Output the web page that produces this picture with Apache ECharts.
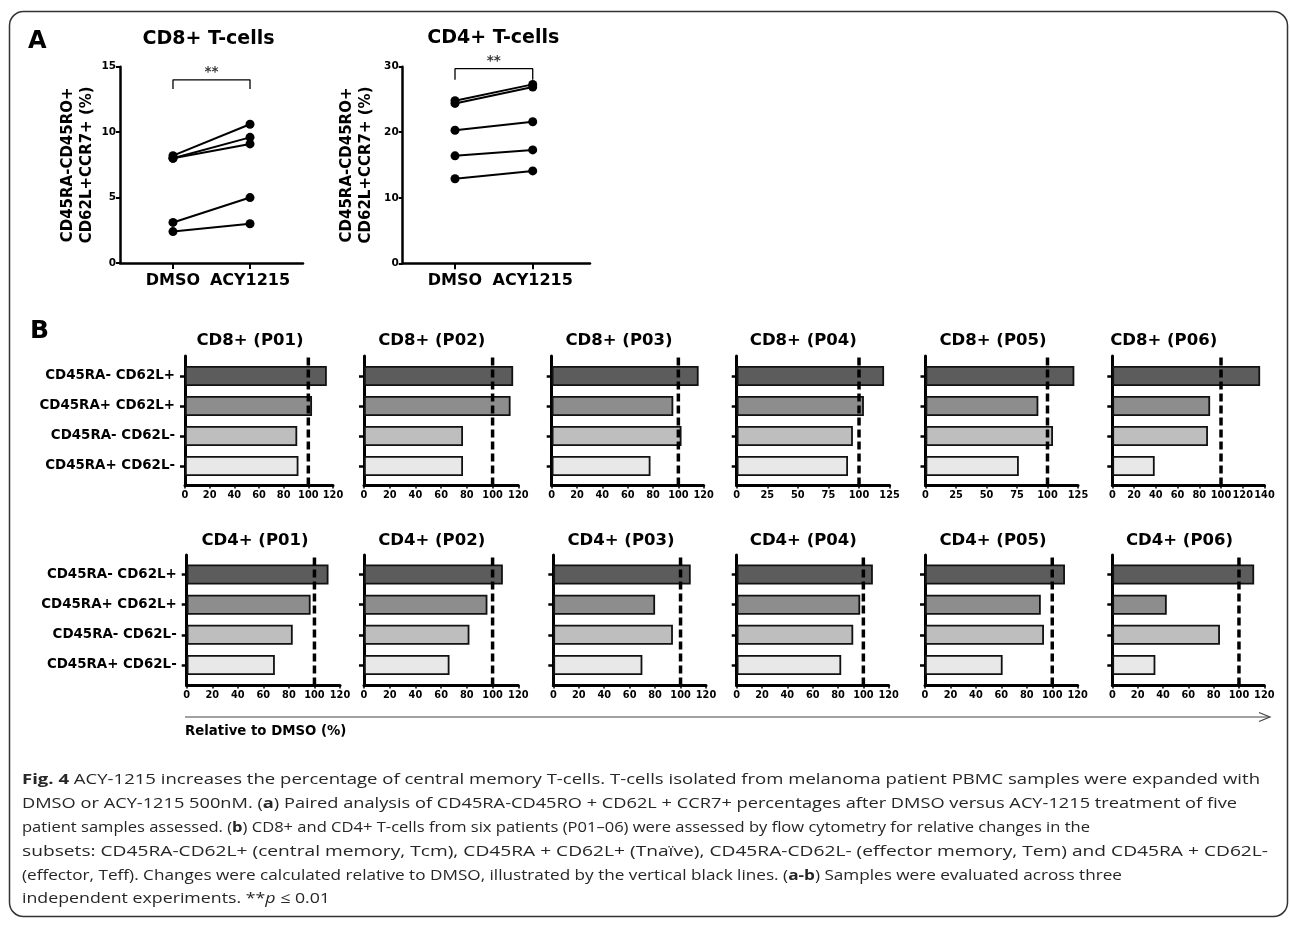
<!DOCTYPE html>
<html>
<head>
<meta charset="utf-8">
<script src="https://cdn.jsdelivr.net/npm/echarts@6/dist/echarts.min.js"></script>
<style>
html,body{margin:0;padding:0;background:#fff;}
#c{width:1290px;height:927px;}
</style>
</head>
<body>
<div id="c"></div>
<script>
// ================= DATA =================
// Panel A: paired percentages (CD45RA-CD45RO+CD62L+CCR7+ %)
const pairedCategories = ['DMSO', 'ACY1215'];
const cd8Dmso = [8.2, 8.0, 8.0, 3.1, 2.4];
const cd8Acy  = [10.6, 9.6, 9.1, 5.0, 3.0];
const cd4Dmso = [24.8, 24.4, 20.3, 16.4, 12.9];
const cd4Acy  = [27.3, 26.9, 21.6, 17.3, 14.1];
const cd8YTicks = [0, 15, 5];   // min, max, step
const cd4YTicks = [0, 30, 10];
const cd8Bracket = [13.3, 14.0];
const cd4Bracket = [28.0, 29.7];
const sigLabel = '**';

// Panel B: relative to DMSO (%)
const subsets = ['CD45RA- CD62L+', 'CD45RA+ CD62L+', 'CD45RA- CD62L-', 'CD45RA+ CD62L-'];
const patients = ['P01', 'P02', 'P03', 'P04', 'P05', 'P06'];
const cd8P01 = [115, 103, 91, 92];
const cd8P02 = [116, 114, 77, 77];
const cd8P03 = [116, 96, 102.5, 78];
const cd8P04 = [120.5, 104, 95, 91];
const cd8P05 = [122, 92.5, 104.5, 76.5];
const cd8P06 = [136, 90, 88, 39];
const cd4P01 = [111, 97, 83, 69];
const cd4P02 = [108, 96, 82, 66.5];
const cd4P03 = [108, 80, 94, 70];
const cd4P04 = [107.5, 97.5, 92, 82.5];
const cd4P05 = [110, 91, 93.5, 61];
const cd4P06 = [112, 43, 85, 34];
const cd8AxisMax  = [120, 120, 120, 125, 125, 140];
const cd8AxisStep = [20, 20, 20, 25, 25, 20];
const cd4AxisMax  = [120, 120, 120, 120, 120, 120];
const cd4AxisStep = [20, 20, 20, 20, 20, 20];
const refValue = 100;

// Caption text
const captionLines = [
  [['Fig. 4', 'b'], [' ACY-1215 increases the percentage of central memory T-cells. T-cells isolated from melanoma patient PBMC samples were expanded with', 'n']],
  [['DMSO or ACY-1215 500nM. (', 'n'], ['a', 'b'], [') Paired analysis of CD45RA-CD45RO + CD62L + CCR7+ percentages after DMSO versus ACY-1215 treatment of five', 'n']],
  [['patient samples assessed. (', 'n'], ['b', 'b'], [') CD8+ and CD4+ T-cells from six patients (P01\u201306) were assessed by flow cytometry for relative changes in the', 'n']],
  [['subsets: CD45RA-CD62L+ (central memory, Tcm), CD45RA + CD62L+ (Tna\u00efve), CD45RA-CD62L- (effector memory, Tem) and CD45RA + CD62L-', 'n']],
  [['(effector, Teff). Changes were calculated relative to DMSO, illustrated by the vertical black lines. (', 'n'], ['a-b', 'b'], [') Samples were evaluated across three', 'n']],
  [['independent experiments. **', 'n'], ['p', 'i'], [' \u2264 0.01', 'n']]
];

// ================= LAYOUT / STYLE =================
const FONT = 'DejaVu Sans';
const CAP_FONT = 'Open Sans';
const CAP_SIZE = 15;
const barColors = ['#5c5c5c', '#8d8d8d', '#bebebe', '#e8e8e8'];
const cd8Left  = [185, 364, 551.7, 736.7, 925.5, 1112.3];
const cd8Width = [148, 154.3, 152, 152.9, 152.5, 152.2];
const cd4Left  = [186.7, 364, 553.3, 736.7, 925, 1112.3];
const cd4Width = [153.3, 154.3, 152.7, 152, 152.7, 152];
const cd8TitleX = [250, 431.7, 619, 803.3, 993, 1163.7];
const cd4TitleX = [255, 431.7, 621, 803.3, 993, 1179.5];
const row1 = {axisTop: 356, axisBottom: 485.5, barTop: 361, barBottom: 481, titleY: 341};
const row2 = {axisTop: 555, axisBottom: 685.5, barTop: 559.5, barBottom: 680, titleY: 541};
const captionY = [780, 804, 828, 852, 875.5, 899];
const captionW = [1238, 1215, 1068, 1246, 1100, 308];

// ================= BUILD =================
const grid = [], xAxis = [], yAxis = [], series = [], graphic = [];
function addGrid(g) { grid.push(g); return grid.length - 1; }
function bold(size, extra) {
  return Object.assign({fontFamily: FONT, fontWeight: 'bold', fontSize: size, color: '#000'}, extra || {});
}
function gtext(x, y, text, size, opts) {
  opts = opts || {};
  graphic.push({type: 'text', x: x, y: y, silent: true, z: 10,
    style: Object.assign({text: text, fontFamily: FONT, fontWeight: 'bold', fontSize: size, fill: '#000',
      align: opts.align || 'center', verticalAlign: 'middle'}, opts.style || {})});
}

function pairedPanel(dmso, acy, ticks, bracket, L) {
  const gi = addGrid({left: L.left, top: L.top, width: L.width, height: L.height});
  const xi = xAxis.length;
  xAxis.push({type: 'value', gridIndex: gi, min: L.xMin, max: L.xMax,
    axisLine: {show: true, onZero: false, lineStyle: {color: '#000', width: 2.5}},
    axisTick: {show: true, customValues: [0, 1], length: 6, lineStyle: {color: '#000', width: 2}},
    axisLabel: Object.assign({customValues: [0, 1], formatter: v => pairedCategories[Math.round(v)], margin: 10}, bold(16)),
    splitLine: {show: false}});
  const yi = yAxis.length;
  yAxis.push({type: 'value', gridIndex: gi, min: ticks[0], max: ticks[1], interval: ticks[2],
    axisLine: {show: true, onZero: false, lineStyle: {color: '#000', width: 2.5}},
    axisTick: {show: true, length: 4, lineStyle: {color: '#000', width: 2}},
    axisLabel: Object.assign({margin: 4}, bold(10.5)),
    splitLine: {show: false},
    name: 'CD45RA-CD45RO+\nCD62L+CCR7+ (%)', nameLocation: 'middle', nameGap: L.nameGap,
    nameTextStyle: bold(15, {lineHeight: 19})});
  dmso.forEach((d, i) => {
    series.push({type: 'line', xAxisIndex: xi, yAxisIndex: yi, data: [[0, d], [1, acy[i]]],
      symbol: 'circle', symbolSize: 9, itemStyle: {color: '#000'},
      lineStyle: {color: '#000', width: 2}, z: 3, silent: true, animation: false});
  });
  series.push({type: 'line', xAxisIndex: xi, yAxisIndex: yi,
    data: [[0, bracket[0]], [0, bracket[1]], [1, bracket[1]], [1, bracket[0]]],
    symbol: 'none', lineStyle: {color: '#000', width: 1.3}, silent: true, animation: false});
  series.push({type: 'scatter', xAxisIndex: xi, yAxisIndex: yi, data: [[0.5, bracket[1]]],
    symbolSize: 1, itemStyle: {color: 'rgba(0,0,0,0)'}, silent: true, animation: false,
    label: Object.assign({show: true, position: 'top', distance: 0, formatter: sigLabel}, bold(13.5))});
}

function barPanel(values, max, step, left, width, R, showCats) {
  const go = addGrid({left: left, width: width, top: R.axisTop, height: R.axisBottom - R.axisTop});
  const gb = addGrid({left: left, width: width, top: R.barTop, height: R.barBottom - R.barTop});
  const xo = xAxis.length;
  xAxis.push({type: 'value', gridIndex: go, min: 0, max: max, interval: step,
    axisLine: {show: true, onZero: false, lineStyle: {color: '#000', width: 3}},
    axisTick: {show: true, length: 3, lineStyle: {color: '#000', width: 1.5}},
    axisLabel: Object.assign({margin: 5}, bold(9.8)),
    splitLine: {show: false}});
  const yo = yAxis.length;
  yAxis.push({type: 'value', gridIndex: go, min: 0, max: 1,
    axisLine: {show: true, onZero: false, lineStyle: {color: '#000', width: 3}},
    axisTick: {show: false}, axisLabel: {show: false}, splitLine: {show: false}});
  const xb = xAxis.length;
  xAxis.push({type: 'value', gridIndex: gb, min: 0, max: max, show: false});
  const yb = yAxis.length;
  yAxis.push({type: 'category', gridIndex: gb, data: subsets, inverse: true,
    axisLine: {show: false},
    axisTick: {show: true, alignWithLabel: true, length: 5, lineStyle: {color: '#000', width: 2.5}},
    axisLabel: Object.assign({show: showCats, margin: 10}, bold(13.4))});
  series.push({type: 'bar', xAxisIndex: xb, yAxisIndex: yb, barWidth: 20,
    data: values.map((v, i) => ({value: v, itemStyle: {color: barColors[i]}})),
    itemStyle: {borderColor: '#111', borderWidth: 1.8}, silent: true, z: 2, animation: false});
  series.push({type: 'line', xAxisIndex: xo, yAxisIndex: yo, data: [[refValue, 0], [refValue, 1]],
    symbol: 'none', lineStyle: {color: '#000', width: 3.5, type: [8, 4]}, z: 5, silent: true, animation: false});
}

// Panel A
pairedPanel(cd8Dmso, cd8Acy, cd8YTicks, cd8Bracket,
  {left: 120, top: 66.7, width: 183, height: 196.3, xMin: -0.688, xMax: 1.688, nameGap: 23});
pairedPanel(cd4Dmso, cd4Acy, cd4YTicks, cd4Bracket,
  {left: 402.7, top: 66.7, width: 187.3, height: 196.6, xMin: -0.673, xMax: 1.737, nameGap: 27});
gtext(28, 41.5, 'A', 24, {align: 'left'});
gtext(208.5, 39, 'CD8+ T-cells', 19);
gtext(493.3, 38.5, 'CD4+ T-cells', 19);

// Panel B
const cd8Sets = [cd8P01, cd8P02, cd8P03, cd8P04, cd8P05, cd8P06];
const cd4Sets = [cd4P01, cd4P02, cd4P03, cd4P04, cd4P05, cd4P06];
patients.forEach((p, k) => {
  barPanel(cd8Sets[k], cd8AxisMax[k], cd8AxisStep[k], cd8Left[k], cd8Width[k], row1, k === 0);
  barPanel(cd4Sets[k], cd4AxisMax[k], cd4AxisStep[k], cd4Left[k], cd4Width[k], row2, k === 0);
  gtext(cd8TitleX[k], row1.titleY, 'CD8+ (' + p + ')', 16.5);
  gtext(cd4TitleX[k], row2.titleY, 'CD4+ (' + p + ')', 16.5);
});
gtext(30, 331, 'B', 25, {align: 'left'});

// Arrow + axis caption
graphic.push({type: 'line', silent: true, shape: {x1: 185, y1: 717, x2: 1269, y2: 717},
  style: {stroke: '#444', lineWidth: 1.2}});
graphic.push({type: 'polyline', silent: true, shape: {points: [[1259, 712.5], [1270, 717], [1259, 721.5]]},
  style: {stroke: '#444', lineWidth: 1.2, fill: 'none'}});
gtext(185, 732, 'Relative to DMSO (%)', 13.3, {align: 'left'});

// Frame
graphic.push({type: 'rect', silent: true, z: 0, shape: {x: 9.5, y: 11.5, width: 1278, height: 905, r: 14},
  style: {fill: 'none', stroke: '#333', lineWidth: 1.5}});

// Caption
const mctx = document.createElement('canvas').getContext('2d');
function capFont(s) {
  return (s === 'i' ? 'italic ' : '') + (s === 'b' ? 'bold ' : '') + CAP_SIZE + 'px "' + CAP_FONT + '"';
}
captionLines.forEach((segs, li) => {
  let w = 0, txt = '';
  segs.forEach(([t, s]) => {
    mctx.font = capFont(s);
    w += mctx.measureText(t).width;
    txt += (s === 'n') ? t : ('{' + s + '|' + t + '}');
  });
  graphic.push({type: 'text', silent: true, x: 22, y: captionY[li], scaleX: captionW[li] / w, scaleY: 1,
    style: {text: txt, fontFamily: CAP_FONT, fontSize: CAP_SIZE, fontWeight: 'normal', fill: '#262626',
      align: 'left', verticalAlign: 'middle',
      rich: {
        b: {fontFamily: CAP_FONT, fontSize: CAP_SIZE, fontWeight: 'bold', fill: '#262626'},
        i: {fontFamily: CAP_FONT, fontSize: CAP_SIZE, fontStyle: 'italic', fill: '#262626'}
      }}});
});

const chart = echarts.init(document.getElementById('c'), null, {renderer: 'canvas', width: 1290, height: 927});
chart.setOption({
  animation: false,
  backgroundColor: '#fff',
  grid: grid, xAxis: xAxis, yAxis: yAxis, series: series, graphic: graphic
});
</script>
</body>
</html>
